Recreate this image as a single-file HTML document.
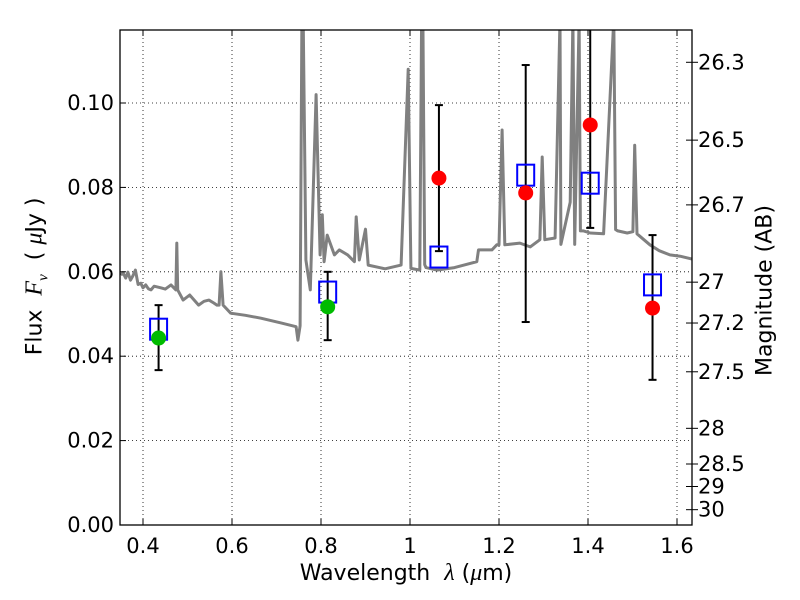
<!DOCTYPE html>
<html><head><meta charset="utf-8"><style>
html,body{margin:0;padding:0;background:#fff;width:800px;height:600px;overflow:hidden;}
svg{display:block;}
svg text{font-family:"DejaVu Sans","Liberation Sans",sans-serif;}
</style></head><body>
<svg id="chart" width="800" height="600" viewBox="0 0 800 600" xmlns="http://www.w3.org/2000/svg" style="position:absolute;left:0;top:0">
<g id="grid"></g>
<g id="spec"></g>
<g id="marks"></g>
<g id="axes"></g>
</svg>
<script>
const specLam=[0.35,0.355,0.361,0.366,0.372,0.377,0.383,0.389,0.395,0.4,0.406,0.412,0.418,0.425,0.44,0.45,0.463,0.474,0.476,0.478,0.49,0.505,0.525,0.537,0.548,0.559,0.566,0.571,0.575,0.58,0.597,0.63,0.665,0.71,0.744,0.748,0.753,0.757,0.76,0.766,0.776,0.789,0.798,0.803,0.807,0.814,0.83,0.841,0.86,0.875,0.879,0.886,0.9,0.906,0.944,0.98,0.996,1.002,1.022,1.026,1.029,1.033,1.036,1.06,1.1,1.15,1.154,1.184,1.195,1.2,1.207,1.213,1.247,1.27,1.292,1.297,1.303,1.326,1.337,1.339,1.36,1.366,1.37,1.38,1.383,1.39,1.405,1.435,1.458,1.462,1.467,1.488,1.501,1.505,1.51,1.539,1.56,1.584,1.607,1.634];
const specFlux=[0.0592,0.0598,0.0585,0.0599,0.058,0.059,0.0604,0.057,0.0573,0.0562,0.0569,0.056,0.0557,0.0566,0.0562,0.0559,0.0569,0.0557,0.0668,0.0557,0.0533,0.0545,0.0521,0.053,0.0533,0.0526,0.0521,0.0521,0.06,0.0521,0.0502,0.0497,0.049,0.0479,0.047,0.0438,0.0472,0.12,0.12,0.0628,0.0557,0.102,0.0640,0.0735,0.0624,0.0687,0.0640,0.0652,0.064,0.0624,0.0730,0.0628,0.0701,0.0616,0.0607,0.0616,0.108,0.0608,0.0604,0.12,0.12,0.0617,0.0610,0.0604,0.061,0.0624,0.0652,0.0652,0.0664,0.0664,0.0936,0.0664,0.0668,0.0659,0.0676,0.0872,0.0676,0.0680,0.12,0.0665,0.0765,0.12,0.0665,0.12,0.0697,0.0697,0.0692,0.0690,0.12,0.0700,0.0697,0.0692,0.0695,0.09,0.069,0.0664,0.065,0.064,0.0637,0.063];
const bandLam=[0.435,0.815,1.065,1.26,1.405,1.545];
const modelFlux=[0.0464,0.0552,0.0635,0.0829,0.081,0.0569];
const obsFlux=[0.0443,0.0517,0.0822,0.0787,0.0948,0.0514];
const obsColor=['#00bb00','#00bb00','#ff0000','#ff0000','#ff0000','#ff0000'];
const errLow=[0.0367,0.0438,0.0649,0.0481,0.0704,0.0344];
const errHigh=[0.0521,0.060,0.0995,0.109,0.13,0.0687];
const xTicks=[0.4,0.6,0.8,1.0,1.2,1.4,1.6];
const xTickLabels=['0.4','0.6','0.8','1','1.2','1.4','1.6'];
const yTicks=[0,0.02,0.04,0.06,0.08,0.10];
const yTickLabels=['0.00','0.02','0.04','0.06','0.08','0.10'];
const magTicks=[26.3,26.5,26.7,27,27.2,27.5,28,28.5,29,30];
const magTickLabels=['26.3','26.5','26.7','27','27.2','27.5','28','28.5','29','30'];
const L=120,R=692,T=30,B=525;
const xmin=0.3483,xmax=1.6337,ymin=0,ymax=0.1173;
const X=v=>L+(v-xmin)/(xmax-xmin)*(R-L);
const Y=v=>B-(v-ymin)/(ymax-ymin)*(B-T);
const NS='http://www.w3.org/2000/svg';
function mk(p,t,a){const e=document.createElementNS(NS,t);for(const k in a)e.setAttribute(k,a[k]);p.appendChild(e);return e;}
const grid=document.getElementById('grid'),spec=document.getElementById('spec'),marks=document.getElementById('marks'),axes=document.getElementById('axes');
xTicks.forEach((v,i)=>{
 const g=mk(grid,'line',{x1:X(v),x2:X(v),y1:T,y2:B,stroke:'#000','stroke-width':0.8,'stroke-dasharray':'1,3'});
 
 
 mk(axes,'line',{x1:X(v),x2:X(v),y1:B,y2:B-6,stroke:'#000'});
 mk(axes,'line',{x1:X(v),x2:X(v),y1:T,y2:T+6,stroke:'#000'});
 const t=mk(axes,'text',{x:X(v),y:B+28,'font-size':21,'text-anchor':'middle'});t.textContent=xTickLabels[i];
 
 
});
yTicks.forEach((v,i)=>{
 const g=mk(grid,'line',{x1:L,x2:R,y1:Y(v),y2:Y(v),stroke:'#000','stroke-width':0.8,'stroke-dasharray':'1,3'});
 
 
 mk(axes,'line',{x1:L,x2:L+6,y1:Y(v),y2:Y(v),stroke:'#000'});
 const t=mk(axes,'text',{x:L-6,y:Y(v)+7,'font-size':21,'text-anchor':'end'});t.textContent=yTickLabels[i];
 
 
});
magTicks.forEach((m,i)=>{
 const f=Math.pow(10,(23.9-m)/2.5);const y=Y(f);
 mk(axes,'line',{x1:R-6,x2:R+6,y1:y,y2:y,stroke:'#000'});
 const t=mk(axes,'text',{x:R+6,y:y+7,'font-size':21});t.textContent=magTickLabels[i];
 
 
});
let d='';specLam.forEach((l,i)=>{d+=(i?'L':'M')+X(l).toFixed(1)+','+Y(Math.min(specFlux[i],0.125)).toFixed(1);});
const cp=mk(document.getElementById('chart'),'clipPath',{id:'clip'});mk(cp,'rect',{x:L,y:T,width:R-L,height:B-T});
const sp=mk(spec,'path',{d:d,fill:'none',stroke:'#808080','stroke-width':3,'clip-path':'url(#clip)','stroke-linejoin':'round'});


bandLam.forEach((l,i)=>{
 const x=X(l);
 const yl=Y(errLow[i]),yh=Math.max(Y(errHigh[i]),T);
 const e=mk(marks,'line',{x1:x,x2:x,y1:yl,y2:yh,stroke:'#000','stroke-width':2});
 
 
 mk(marks,'line',{x1:x-4,x2:x+4,y1:yl,y2:yl,stroke:'#000','stroke-width':2});
 if(Y(errHigh[i])>T)mk(marks,'line',{x1:x-4,x2:x+4,y1:yh,y2:yh,stroke:'#000','stroke-width':2});
 const s=mk(marks,'rect',{x:x-8.5,y:Y(modelFlux[i])-10.5,width:17,height:21,fill:'none',stroke:'#0000ff','stroke-width':2});
 
 
 const c=mk(marks,'circle',{cx:x,cy:Y(obsFlux[i]),r:7.5,fill:obsColor[i]});
 
 
});
const fr=mk(axes,'rect',{x:L,y:T,width:R-L,height:B-T,fill:'none',stroke:'#000','stroke-width':1.3});


</script>
<div style="position:absolute;left:0;top:0;width:800px;height:600px;pointer-events:none;font-family:'DejaVu Sans','Liberation Sans',sans-serif;">
<div style="position:absolute;left:0;width:812px;top:560px;text-align:center;font-size:22px;white-space:nowrap;">Wavelength &nbsp;<i style="font-family:'Liberation Serif',serif;font-size:24px">λ</i> (<i style="font-family:'Liberation Serif',serif;font-size:24px">μ</i>m)</div>
<div style="position:absolute;left:-83px;top:261px;width:240px;text-align:center;font-size:22px;transform:rotate(-90deg);white-space:nowrap;">Flux &nbsp;<i style="font-family:'Liberation Serif',serif;font-size:24px">F<sub style="font-size:15px">ν</sub></i> &nbsp;( <i style="font-family:'Liberation Serif',serif;font-size:24px">μ</i>Jy )</div>
<div style="position:absolute;left:665px;top:278px;width:200px;text-align:center;font-size:22px;transform:rotate(-90deg);white-space:nowrap;">Magnitude (AB)</div>
</div>
</body></html>
